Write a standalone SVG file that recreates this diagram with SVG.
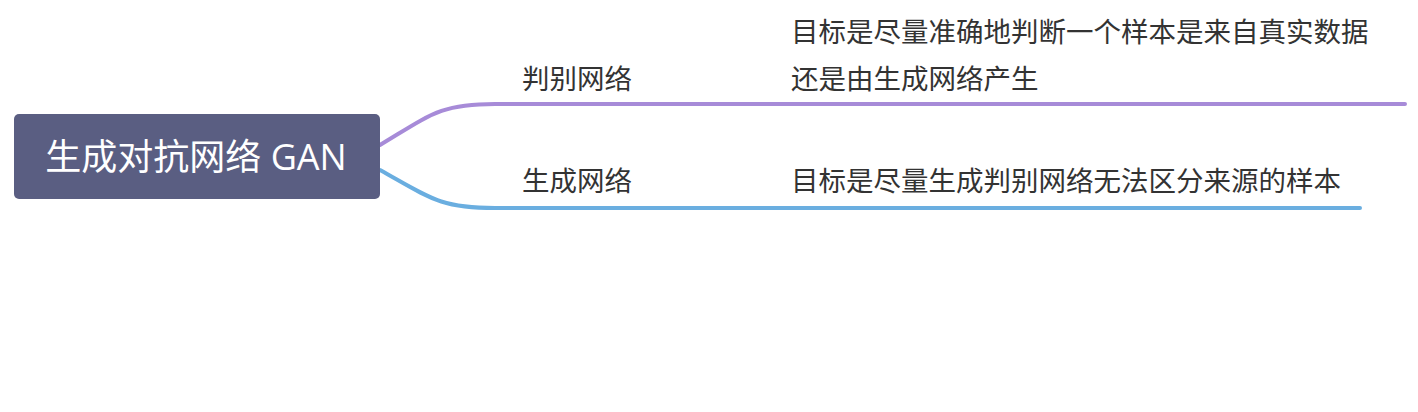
<svg xmlns="http://www.w3.org/2000/svg" width="1418" height="412" viewBox="0 0 1418 412">
<style>
.t{font-family:"Open Sans","Noto Sans CJK SC",sans-serif;font-size:27.5px;fill:#333}
.c{fill:none;stroke-width:4;stroke-linecap:round}
</style>
<rect width="1418" height="412" fill="#fff"/>
<g id="connectors">
<path class="c" stroke="#a78bd8" d="M380 145 C430 115 440 104 495 104 L1405 104"/>
<path class="c" stroke="#6aaee0" d="M380 170 C430 198 440 208 495 208 L1360 208"/>
</g>
<g id="root">
<rect x="14" y="114" width="366" height="85" rx="5" fill="#5a5e82"/>
<text x="196" y="170" text-anchor="middle" font-family="'Open Sans','Noto Sans CJK SC',sans-serif" font-size="36" fill="#fff">生成对抗网络 GAN</text>
</g>
<g id="n1"><text class="t" x="522" y="89">判别网络</text></g>
<g id="n2"><text class="t" x="791" y="42">目标是尽量准确地判断一个样本是来自真实数据</text><text class="t" x="791" y="89">还是由生成网络产生</text></g>
<g id="n3"><text class="t" x="522" y="191">生成网络</text></g>
<g id="n4"><text class="t" x="791" y="191">目标是尽量生成判别网络无法区分来源的样本</text></g>
</svg>
